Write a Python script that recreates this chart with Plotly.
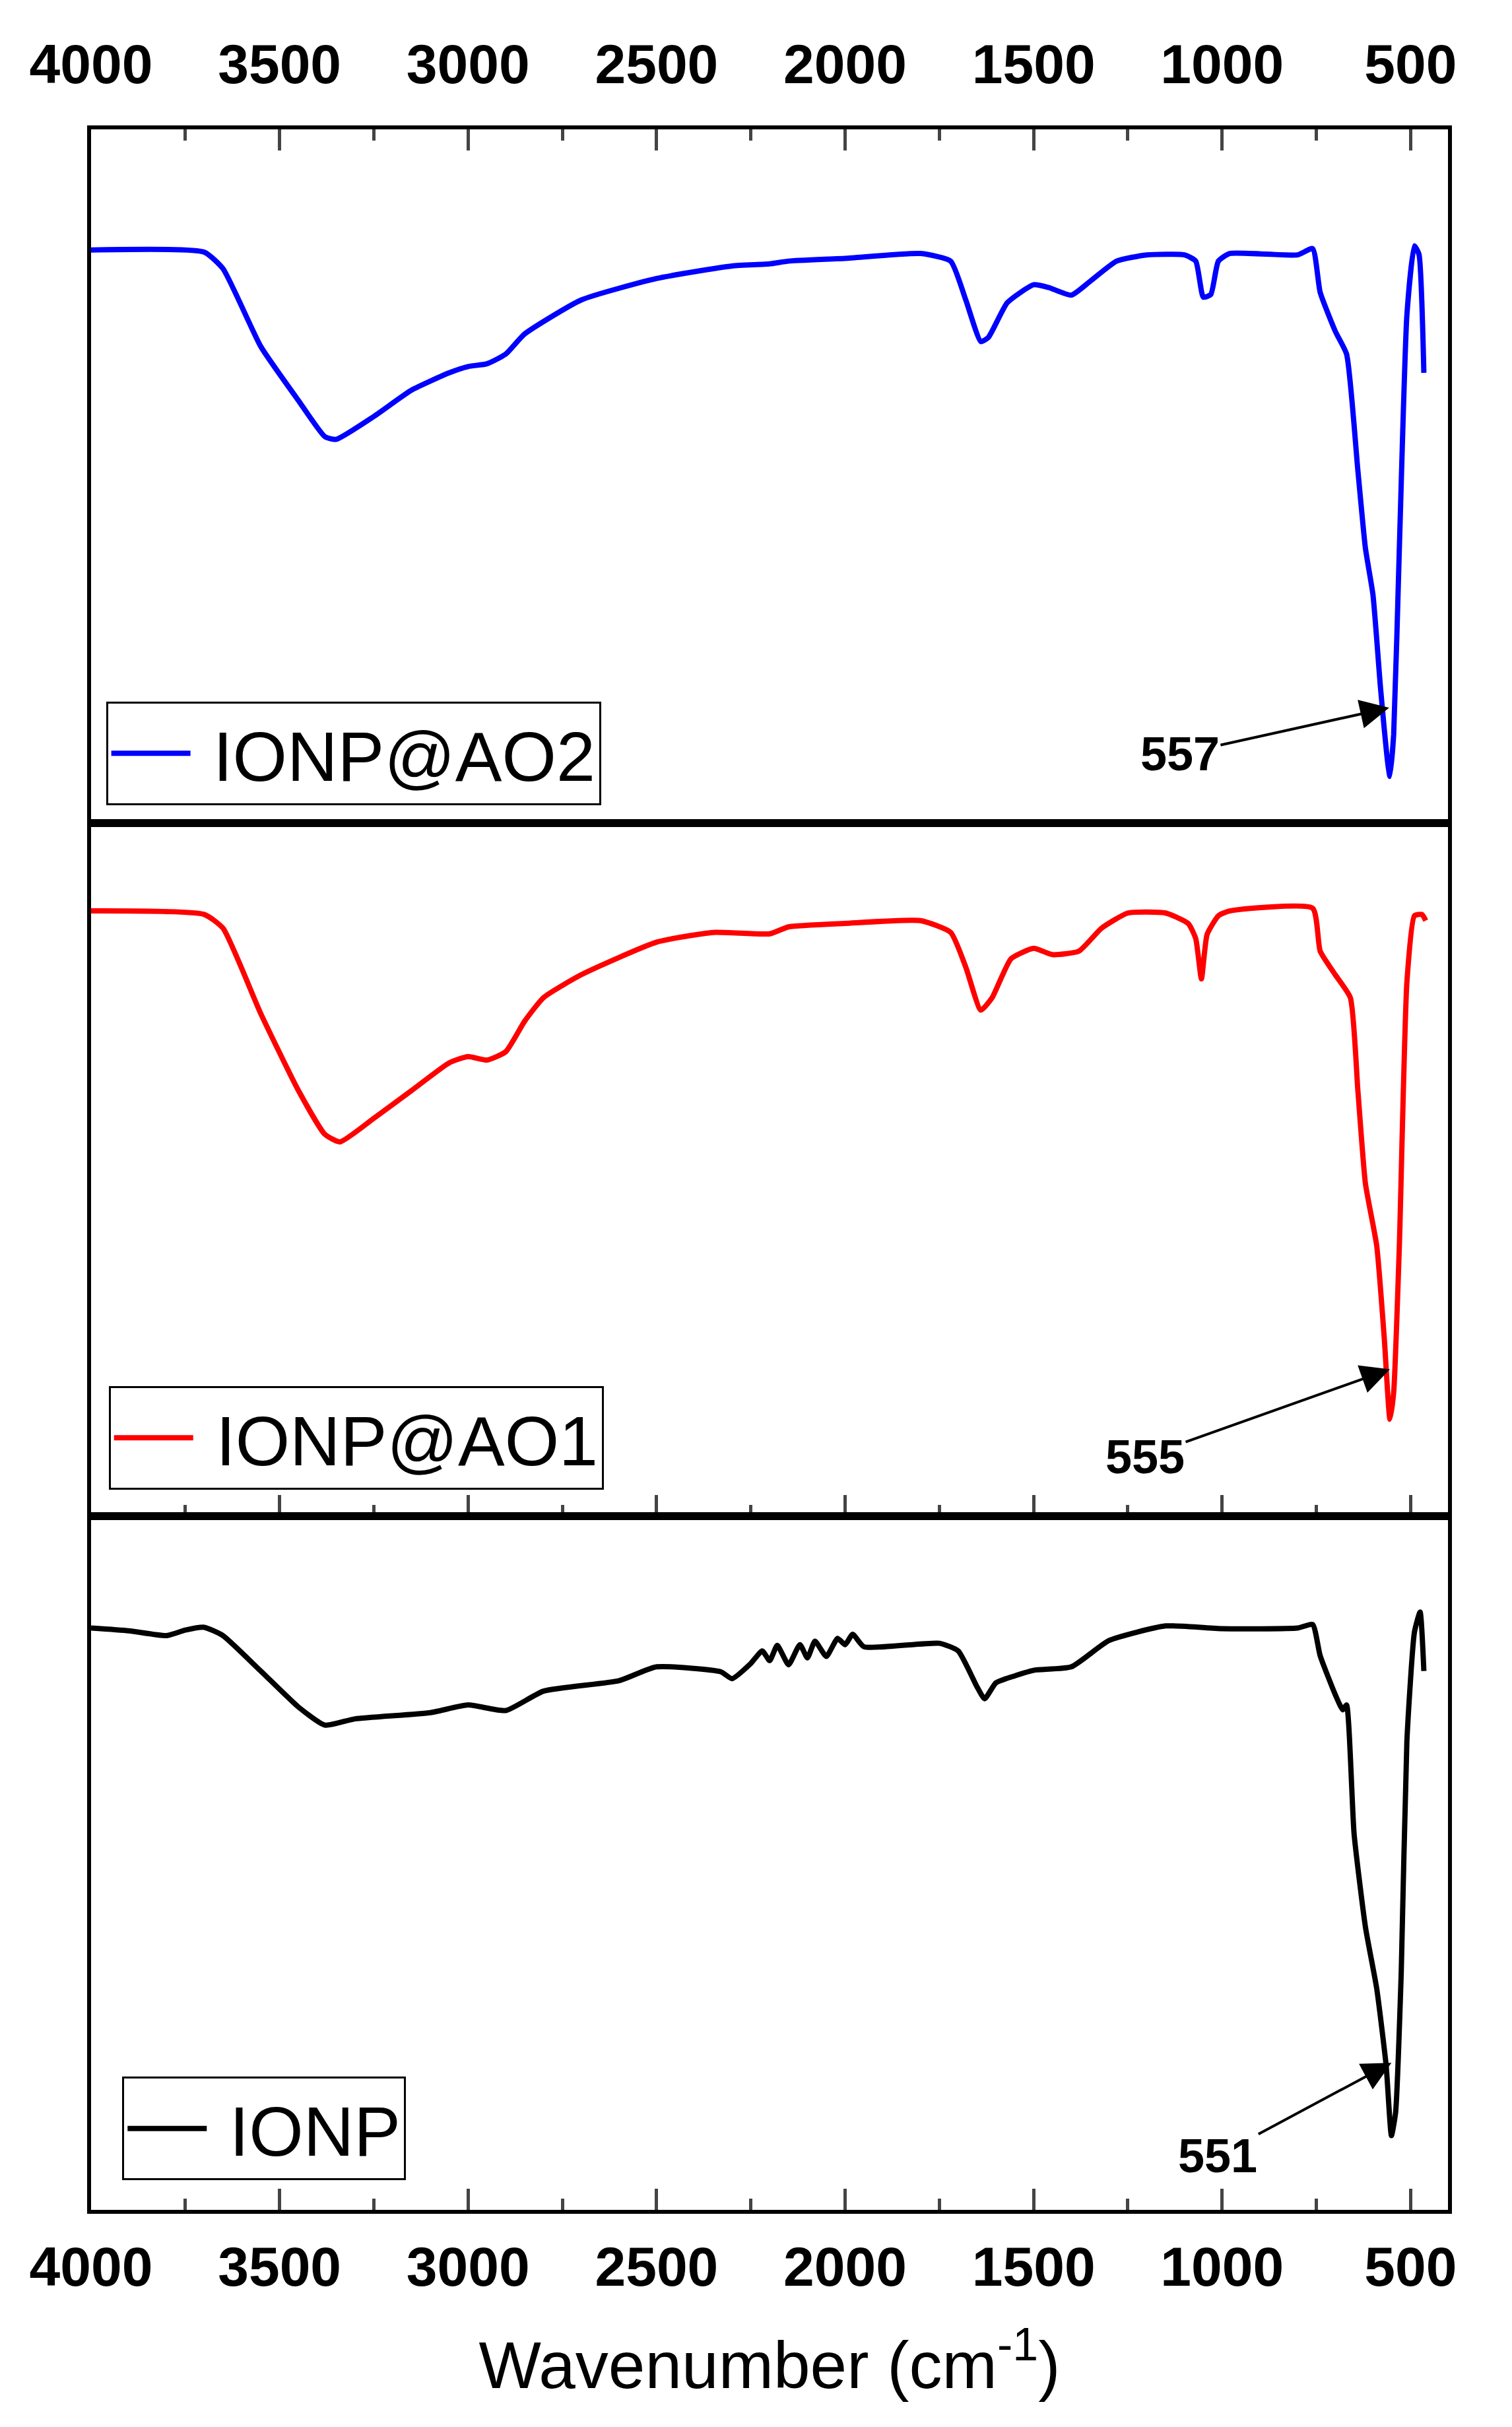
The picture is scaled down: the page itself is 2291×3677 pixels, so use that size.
import plotly.graph_objects as go
from plotly.subplots import make_subplots

wn_ao2 = [4000,3700,3650,3550,3450,3380,3350,3250,3150,3050,3000,2950,2900,2850,2700,2500,2300,2200,2150,2000,1800,1720,1680,1640,1620,1570,1500,1460,1400,1350,1280,1200,1100,1070,1050,1030,1010,980,800,760,740,700,670,640,620,600,580,560,555,545,530,510,490,478,465]
t_ao2 = [82.6,82.3,79.9,68.7,60.9,55.7,55.3,58.6,62.4,64.9,65.8,66.2,67.6,70.5,75.4,78.5,80.3,80.6,81.0,81.4,82.1,81.0,75.4,69.4,70.0,75.0,77.6,77.2,76.1,78.1,81.0,81.9,81.9,81.0,75.8,76.2,81.0,82.1,81.9,82.8,76.5,70.9,67.6,50.8,39.6,32.9,19.5,8.3,6.7,12.8,39.6,73.2,83.2,82.0,64.9]

wn_ao1 = [4000,3700,3650,3550,3450,3380,3340,3250,3150,3050,3000,2950,2900,2850,2800,2700,2500,2350,2200,2150,2000,1800,1720,1680,1640,1610,1560,1500,1450,1380,1320,1250,1150,1090,1070,1055,1040,1010,980,760,740,700,660,640,620,590,570,555,545,530,510,490,470,460]
t_ao1 = [87.3,86.8,84.8,72.5,61.4,55.1,54.0,57.4,61.4,65.4,66.3,65.8,67.0,71.4,74.8,78.1,82.8,84.2,84.0,85.0,85.5,85.9,84.2,79.2,73.0,74.8,80.4,81.9,81.0,81.5,84.8,87.0,87.0,85.5,83.3,77.5,83.9,86.6,87.3,87.7,81.5,78.1,74.8,61.4,48.0,39.0,25.7,14.0,17.9,39.0,77.0,86.6,86.8,85.9]

wn_ionp = [4000,3900,3800,3750,3700,3650,3550,3450,3380,3300,3100,3000,2900,2800,2600,2500,2330,2300,2250,2220,2200,2180,2150,2120,2100,2080,2050,2020,2000,1980,1950,1750,1700,1650,1630,1600,1550,1500,1400,1300,1150,1000,800,760,740,700,680,670,650,620,590,565,551,540,525,510,490,475,465]
t_ionp = [83.9,83.5,82.8,83.6,84.0,82.8,77.7,72.5,69.9,70.8,71.7,72.8,72.0,74.8,76.3,78.3,77.6,76.6,78.8,80.6,79.2,81.4,78.6,81.5,79.6,82.0,79.8,82.4,81.5,83.0,81.2,81.7,80.6,75.4,73.7,76.0,77.0,77.8,78.3,82.1,84.2,83.8,83.9,84.4,79.9,74.3,72.1,72.8,54.2,40.8,31.9,20.8,10.7,14.0,34.2,67.6,83.3,86.2,77.7]

names = ["IONP@AO2", "IONP@AO1", "IONP"]
colors = ["#0000FF", "#FF0000", "#000000"]
tick_vals = [4000,3500,3000,2500,2000,1500,1000,500]
tick_text = ["<b>%d</b>" % v for v in tick_vals]
peak_wn = [557, 555, 551]
peak_t = [16.6, 21.2, 21.2]

FONT = "Liberation Sans, Arial, sans-serif"
fig = make_subplots(rows=3, cols=1, shared_xaxes=False, vertical_spacing=0)
data = [(wn_ao2, t_ao2), (wn_ao1, t_ao1), (wn_ionp, t_ionp)]
legends = ["legend", "legend2", "legend3"]
for i, (x, y) in enumerate(data):
    fig.add_trace(go.Scatter(x=x, y=y, mode="lines", name="\u00a0" + names[i],
                             line=dict(color=colors[i], width=8, shape="spline", smoothing=0.5),
                             legend=legends[i]), row=i+1, col=1)

for i in range(3):
    fig.update_xaxes(row=i+1, col=1, range=[4000, 401], tickvals=tick_vals, ticktext=tick_text,
                     ticks="inside", ticklen=32, tickwidth=5, showline=True, linewidth=6,
                     linecolor="black", mirror=True, showgrid=False, zeroline=False,
                     minor=dict(ticks="inside", ticklen=17, tickwidth=5, dtick=250, tick0=0),
                     showticklabels=(i != 1), side=("top" if i == 0 else "bottom"),
                     tickfont=dict(family=FONT, size=84, color="black"),
                     ticklabelstandoff=8 if i == 2 else 30)
    fig.update_yaxes(row=i+1, col=1, range=[0, 100], showticklabels=False, ticks="",
                     showline=True, linewidth=6, linecolor="black", mirror=True,
                     showgrid=False, zeroline=False)

fig.update_xaxes(row=3, col=1, title=dict(text="Wavenumber (cm<sup>-1</sup>)",
                 font=dict(family=FONT, size=100, color="black"), standoff=70))

leg_pos = [(0.011, 0.725), (0.013, 0.396), (0.023, 0.064)]
legkw = {}
for i, (lx, ly) in enumerate(leg_pos):
    legkw[legends[i]] = dict(x=lx, y=ly, xanchor="left", yanchor="top",
                             bordercolor="black", borderwidth=3, bgcolor="white",
                             font=dict(family=FONT, size=106, color="black"),
                             itemwidth=120)

axy = [("x", "y"), ("x2", "y2"), ("x3", "y3")]
offsets = [(-317, 70), (-371, 132), (-263, 141)]
for i in range(3):
    fig.add_annotation(x=peak_wn[i], y=peak_t[i], xref=axy[i][0], yref=axy[i][1],
                       text="<b>%d</b>" % peak_wn[i], showarrow=True, arrowhead=2,
                       arrowsize=2.2, arrowwidth=4, arrowcolor="black",
                       ax=offsets[i][0], ay=offsets[i][1],
                       font=dict(family=FONT, size=72, color="black"))

fig.update_layout(width=2291, height=3677, margin=dict(l=130, r=105, t=188, b=337),
                  plot_bgcolor="white", paper_bgcolor="white", showlegend=True, **legkw)
fig.write_html("out.html")
